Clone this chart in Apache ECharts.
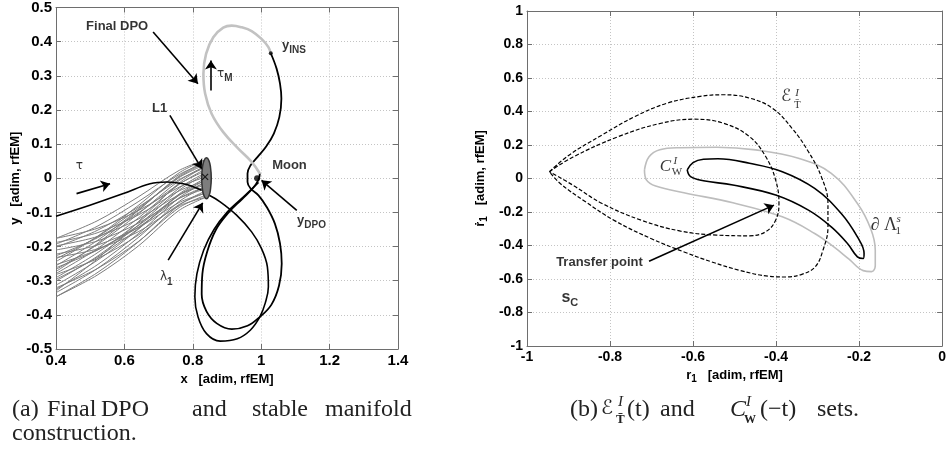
<!DOCTYPE html>
<html><head><meta charset="utf-8">
<script src="https://cdn.jsdelivr.net/npm/echarts@6/dist/echarts.min.js"></script>
<style>html,body{margin:0;padding:0;background:#fff}#c{width:949px;height:458px}</style>
</head><body><div id="c"></div>
<script>
// ---------- tick values ----------
const leftXTicks=[0.4,0.6,0.8,1.0,1.2,1.4];
const leftYTicks=[-0.5,-0.4,-0.3,-0.2,-0.1,0,0.1,0.2,0.3,0.4,0.5];
const rightXTicks=[-1,-0.8,-0.6,-0.4,-0.2,0];
const rightYTicks=[-1,-0.8,-0.6,-0.4,-0.2,0,0.2,0.4,0.6,0.8,1];

// ---------- panel (a) data ----------
const manifold=[
 [[0.40,-0.176],[0.52,-0.147],[0.64,-0.095],[0.76,-0.026],[0.826,0.000]],
 [[0.40,-0.188],[0.52,-0.160],[0.64,-0.108],[0.76,-0.037],[0.827,-0.011]],
 [[0.40,-0.198],[0.52,-0.171],[0.64,-0.120],[0.76,-0.048],[0.828,-0.022]],
 [[0.40,-0.210],[0.52,-0.184],[0.64,-0.132],[0.76,-0.059],[0.831,-0.033]],
 [[0.40,-0.222],[0.52,-0.196],[0.64,-0.145],[0.76,-0.071],[0.835,-0.044]],
 [[0.40,-0.232],[0.52,-0.207],[0.64,-0.157],[0.76,-0.081],[0.840,-0.055]],
 [[0.40,-0.244],[0.52,-0.171],[0.64,-0.080],[0.76,0.016],[0.840,0.055]],
 [[0.40,-0.256],[0.52,-0.183],[0.64,-0.093],[0.76,0.004],[0.835,0.044]],
 [[0.40,-0.267],[0.52,-0.195],[0.64,-0.105],[0.76,-0.007],[0.831,0.033]],
 [[0.40,-0.279],[0.52,-0.207],[0.64,-0.117],[0.76,-0.018],[0.828,0.022]],
 [[0.40,-0.291],[0.52,-0.219],[0.64,-0.130],[0.76,-0.029],[0.827,0.011]],
 [[0.40,-0.301],[0.52,-0.229],[0.64,-0.138],[0.76,-0.035],[0.826,0.006]],
 [[0.40,-0.313],[0.52,-0.241],[0.64,-0.150],[0.76,-0.046],[0.826,-0.006]],
 [[0.40,-0.325],[0.52,-0.254],[0.64,-0.163],[0.76,-0.057],[0.827,-0.017]],
 [[0.40,-0.335],[0.52,-0.265],[0.64,-0.174],[0.76,-0.068],[0.829,-0.028]],
 [[0.40,-0.347],[0.52,-0.277],[0.64,-0.187],[0.76,-0.079],[0.833,-0.039]],
 [[0.40,-0.176],[0.52,-0.125],[0.64,-0.055],[0.76,0.023],[0.840,0.055]],
 [[0.40,-0.347],[0.52,-0.284],[0.64,-0.199],[0.76,-0.094],[0.840,-0.055]],
 [[0.40,-0.262],[0.52,-0.211],[0.64,-0.139],[0.76,-0.050],[0.827,-0.017]],
 [[0.40,-0.202],[0.52,-0.153],[0.64,-0.085],[0.76,-0.004],[0.830,0.028]],
 [[0.40,-0.321],[0.52,-0.265],[0.64,-0.186],[0.76,-0.086],[0.837,-0.050]],
 [[0.40,-0.193],[0.52,-0.141],[0.64,-0.069],[0.76,0.011],[0.835,0.044]],
 [[0.40,-0.227],[0.52,-0.175],[0.64,-0.102],[0.76,-0.017],[0.827,0.017]],
 [[0.40,-0.253],[0.52,-0.210],[0.64,-0.144],[0.76,-0.059],[0.829,-0.028]],
 [[0.40,-0.273],[0.52,-0.192],[0.64,-0.095],[0.76,0.007],[0.838,0.050]],
 [[0.40,-0.296],[0.52,-0.232],[0.64,-0.148],[0.76,-0.049],[0.827,-0.011]],
 [[0.40,-0.330],[0.52,-0.237],[0.64,-0.128],[0.76,-0.014],[0.831,0.033]],
 [[0.40,-0.236],[0.52,-0.172],[0.64,-0.089],[0.76,0.002],[0.834,0.039]],
 [[0.40,-0.282],[0.52,-0.236],[0.64,-0.167],[0.76,-0.077],[0.835,-0.044]]
];
const lyapOrbit=[[0.854,0],[0.852,0.030],[0.847,0.052],[0.840,0.060],[0.833,0.052],[0.828,0.030],[0.826,0],[0.828,-0.030],[0.833,-0.052],[0.840,-0.060],[0.847,-0.052],[0.852,-0.030]];
const dpoGray=[[0.996,0.014],[0.972,0.048],[0.933,0.087],[0.889,0.135],[0.855,0.189],[0.836,0.248],[0.831,0.306],[0.839,0.365],[0.860,0.413],[0.889,0.441],[0.914,0.447],[0.943,0.442],[0.972,0.431],[1.001,0.408],[1.021,0.384],[1.028,0.366]];
const dpoBlack=[[1.028,0.366],[1.045,0.321],[1.055,0.277],[1.059,0.233],[1.053,0.179],[1.037,0.131],[1.014,0.092],[0.989,0.062],[0.969,0.038],[0.960,0.014],[0.960,-0.011],[0.969,-0.030],[0.992,-0.050],[1.016,-0.084],[1.040,-0.133],[1.055,-0.191],[1.060,-0.250],[1.052,-0.315],[1.030,-0.370],[0.996,-0.406],[0.960,-0.432],[0.914,-0.442],[0.870,-0.425],[0.840,-0.390],[0.826,-0.340],[0.828,-0.280],[0.842,-0.215],[0.868,-0.150],[0.905,-0.100],[0.945,-0.060],[0.975,-0.030],[0.992,-0.005],[0.996,0.014]];
const l1Path=[[0.848,-0.050],[0.880,-0.069],[0.928,-0.108],[0.972,-0.157],[1.001,-0.206],[1.018,-0.259],[1.021,-0.318],[1.012,-0.365],[0.996,-0.406],[0.968,-0.445],[0.930,-0.470],[0.880,-0.477],[0.840,-0.455],[0.815,-0.405],[0.806,-0.347],[0.812,-0.280],[0.832,-0.210],[0.862,-0.150],[0.900,-0.100],[0.940,-0.062],[0.972,-0.032],[0.992,-0.012]];
const tauPath=[[0.400,-0.111],[0.499,-0.079],[0.597,-0.045],[0.675,-0.016],[0.724,-0.011],[0.772,-0.016],[0.801,-0.025],[0.826,-0.035]];
const l1Point=[[0.836,0.004]];
const moonPoint=[[0.988,0.0]];
const insPoint=[[1.028,0.366]];
const leftArrows=[[[0.684,0.428],[0.815,0.277]],[[0.853,0.257],[0.853,0.345]],[[0.733,0.184],[0.826,0.028]],[[0.46,-0.045],[0.558,-0.016]],[[0.728,-0.24],[0.829,-0.072]],[[1.104,-0.094],[1.001,-0.006]]];
const leftNotes=[
 {t:'{b|Final DPO}',at:[0.488,0.446]},
 {t:'{g|τ}{sb|M}',at:[0.871,0.307]},
 {t:'{b|y}{sb|INS}',at:[1.061,0.389]},
 {t:'{b|L1}',at:[0.681,0.205]},
 {t:'{b|Moon}',at:[1.032,0.039]},
 {t:'{g|τ}',at:[0.458,0.037]},
 {t:'{b|y}{sb|DPO}',at:[1.105,-0.123]},
 {t:'{g|λ}{sb|1}',at:[0.704,-0.289]}
];

// ---------- panel (b) data ----------
const eOuter=[[-0.946,0.041],[-0.898,0.141],[-0.819,0.260],[-0.740,0.370],[-0.662,0.450],[-0.583,0.490],[-0.527,0.500],[-0.464,0.480],[-0.409,0.420],[-0.362,0.301],[-0.322,0.160],[-0.291,0.011],[-0.275,-0.149],[-0.275,-0.289],[-0.287,-0.428],[-0.306,-0.528],[-0.338,-0.572],[-0.378,-0.588],[-0.417,-0.584],[-0.488,-0.548],[-0.555,-0.498],[-0.620,-0.440],[-0.700,-0.360],[-0.790,-0.250],[-0.859,-0.139],[-0.920,-0.030],[-0.946,0.041]];
const eInner=[[-0.946,0.041],[-0.890,0.127],[-0.780,0.250],[-0.677,0.330],[-0.598,0.354],[-0.527,0.330],[-0.464,0.250],[-0.425,0.131],[-0.401,-0.009],[-0.393,-0.149],[-0.401,-0.249],[-0.425,-0.318],[-0.464,-0.342],[-0.543,-0.338],[-0.630,-0.314],[-0.725,-0.249],[-0.819,-0.149],[-0.890,-0.039],[-0.946,0.041]];
const lambdaBound=[[-0.717,0.051],[-0.706,0.130],[-0.680,0.172],[-0.630,0.184],[-0.543,0.187],[-0.449,0.171],[-0.346,0.121],[-0.267,0.031],[-0.204,-0.149],[-0.172,-0.300],[-0.161,-0.428],[-0.161,-0.520],[-0.170,-0.556],[-0.190,-0.550],[-0.225,-0.480],[-0.260,-0.410],[-0.307,-0.328],[-0.385,-0.229],[-0.504,-0.145],[-0.622,-0.085],[-0.690,-0.045],[-0.712,-0.010],[-0.717,0.051]];
const cwSet=[[-0.614,0.051],[-0.600,0.095],[-0.575,0.115],[-0.540,0.118],[-0.464,0.091],[-0.385,0.041],[-0.307,-0.059],[-0.243,-0.209],[-0.204,-0.349],[-0.188,-0.448],[-0.190,-0.478],[-0.204,-0.468],[-0.228,-0.388],[-0.267,-0.289],[-0.322,-0.189],[-0.401,-0.099],[-0.504,-0.039],[-0.575,-0.013],[-0.606,0.011],[-0.614,0.051]];
const rightArrows=[[[-0.706,-0.494],[-0.405,-0.159]]];
const rightNotes=[
 {t:'{b|Transfer point}',at:[-0.721,-0.500],side:'left'},
 {t:'{s1|s}{s2|C}',at:[-0.917,-0.710]},
 {t:'{m|ℰ}',at:[-0.388,0.487]},
 {t:'{mi|I}',at:[-0.354,0.510]},
 {t:'{mr|T̄}',at:[-0.357,0.436]},
 {t:'{mc|C}',at:[-0.680,0.069]},
 {t:'{mi|I}',at:[-0.647,0.104]},
 {t:'{mr|W}',at:[-0.651,0.040]},
 {t:'{ml|∂ Λ}',at:[-0.172,-0.278]},
 {t:'{mi|s}',at:[-0.110,-0.243]},
 {t:'{mr|1}',at:[-0.112,-0.314]}
];

// ---------- styling ----------
const SANS='"Liberation Sans", Arial, sans-serif';
const SERIF='"Liberation Serif", "DejaVu Serif", serif';
const AX='#6e6e6e';
const fmt=v=>String(+(+v).toFixed(2));
function mkAxis(dim,gi,pos,ticks,main,fs,name,gap,nameRich){
  const o={type:'value',gridIndex:gi,position:pos,min:ticks[0],max:ticks[ticks.length-1],
    interval:+(ticks[1]-ticks[0]).toFixed(4),
    axisLine:{show:true,onZero:false,lineStyle:{color:AX,width:1}},
    axisTick:{show:true,inside:true,length:5,lineStyle:{color:AX}},
    axisLabel:{show:main,color:'#000',fontFamily:SANS,fontWeight:'bold',fontSize:fs,margin:4,formatter:fmt},
    splitLine:{show:main,lineStyle:{color:'#c4c4c4',type:[1,2],width:1}}};
  if(main&&name){o.name=name;o.nameLocation='middle';o.nameGap=gap;
    o.nameTextStyle={color:'#000',fontFamily:SANS,fontWeight:'bold',fontSize:13,rich:nameRich||{}};}
  return o;
}
const nameRich={
  r:{fontFamily:SANS,fontWeight:'bold',fontSize:13,lineHeight:18,verticalAlign:'middle',color:'#000'},
  s:{fontFamily:SANS,fontWeight:'bold',fontSize:10,lineHeight:10,verticalAlign:'bottom',color:'#000'},
  t:{fontFamily:SANS,fontWeight:'bold',fontSize:13,lineHeight:18,verticalAlign:'middle',color:'#000'}
};
const noteRich={
  b:{fontFamily:SANS,fontWeight:'bold',fontSize:13,lineHeight:20,verticalAlign:'middle',color:'#000'},
  g:{fontFamily:'"DejaVu Sans", sans-serif',fontSize:12,lineHeight:20,verticalAlign:'middle',color:'#000'},
  sb:{fontFamily:SANS,fontWeight:'bold',fontSize:10,lineHeight:10,verticalAlign:'bottom',color:'#000'},
  s1:{fontFamily:SANS,fontWeight:'bold',fontSize:16,lineHeight:22,verticalAlign:'middle',color:'#000'},
  s2:{fontFamily:SANS,fontWeight:'bold',fontSize:11,lineHeight:11,verticalAlign:'bottom',color:'#000'},
  m:{fontFamily:'"DejaVu Sans", sans-serif',fontSize:17,color:'#000'},
  mc:{fontFamily:SERIF,fontStyle:'italic',fontSize:17,color:'#000'},
  ml:{fontFamily:SERIF,fontSize:18,color:'#000'},
  mi:{fontFamily:SERIF,fontStyle:'italic',fontSize:11,color:'#000'},
  mr:{fontFamily:SERIF,fontSize:11,color:'#000'}
};

function line(data,g,color,width,type,z,smooth){
  return {type:'line',xAxisIndex:g*2,yAxisIndex:g*2,data:data,showSymbol:false,symbol:'none',
    smooth:smooth===undefined?0.4:smooth,lineStyle:{color:color,width:width,type:type||'solid'},
    silent:true,animation:false,z:z||2};
}
function arrows(list,g){
  return {type:'line',xAxisIndex:g*2,yAxisIndex:g*2,data:[],silent:true,animation:false,z:6,
    markLine:{silent:true,animation:false,symbol:['none','arrow'],symbolSize:9,label:{show:false},
      lineStyle:{color:'#000',width:1.6,type:'solid'},itemStyle:{color:'#000'},emphasis:{disabled:true},
      data:list.map(a=>[{coord:a[0]},{coord:a[1]}])}};
}
function notes(list,g){
  return {type:'scatter',xAxisIndex:g*2,yAxisIndex:g*2,symbolSize:0,silent:true,animation:false,z:10,
    data:list.map(n=>({value:n.at,name:n.t,label:{position:n.side||'right'}})),
    label:{show:true,position:'right',distance:0,formatter:p=>p.name,rich:noteRich}};
}
function points(data,g,size,symbol,style){
  return {type:'scatter',xAxisIndex:g*2,yAxisIndex:g*2,data:data,symbol:symbol||'circle',symbolSize:size,
    itemStyle:style||{color:'#000'},silent:true,animation:false,z:8};
}

const series=[];
manifold.forEach(m=>series.push(line(m,0,'#7c7c7c',1,'solid',1,0.3)));
series.push({type:'custom',xAxisIndex:0,yAxisIndex:0,data:[[0.84,0]],silent:true,animation:false,z:3,
  renderItem:(params,api)=>({type:'polygon',shape:{points:lyapOrbit.map(p=>api.coord(p)),smooth:0.5},
    style:{fill:'#7d7d7d',stroke:'#333',lineWidth:1.5}})});
series.push(line(tauPath,0,'#000',1.6));
series.push(line(l1Path,0,'#000',1.6));
series.push(line(dpoBlack,0,'#000',1.8));
series.push(line(dpoGray,0,'#c2c2c2',2.6));
series.push(points(l1Point,0,6,'path://M0,0L10,10M10,0L0,10',{color:'none',borderColor:'#000',borderWidth:1.2}));
series.push(points(moonPoint,0,6));
series.push(points(insPoint,0,4));
series.push(arrows(leftArrows,0));
series.push(notes(leftNotes,0));

series.push(line(lambdaBound,1,'#bdbdbd',1.6));
series.push(line(cwSet,1,'#000',1.6));
series.push(line(eOuter,1,'#000',1.2,[4,2]));
series.push(line(eInner,1,'#000',1.2,[4,2]));
series.push(arrows(rightArrows,1));
series.push(notes(rightNotes,1));

const capFont='24px "Liberation Serif", "DejaVu Serif", serif';
const supFont='italic 15px "Liberation Serif", serif';
function cap(text,x,y,font){return {type:'text',x:x,y:y,silent:true,style:{text:text,font:font||capFont,fill:'#222',align:'left',verticalAlign:'middle'}};}
const captions=[
  cap('(a)',12,410),cap('Final',47,410),cap('DPO',101,410),cap('and',192,410),cap('stable',252,410),cap('manifold',325,410),
  cap('construction.',12,434),
  cap('(b)',570,410),cap('ℰ',601,409,'20px "DejaVu Sans", sans-serif'),cap('I',618,402,supFont),cap('T̄',616,420,'bold 13px "Liberation Serif", serif'),
  cap('(t)',627,410),cap('and',660,410),cap('C',730,410,'italic 24px "Liberation Serif", serif'),
  cap('I',746,402,supFont),cap('W',744,420,'bold 12px "Liberation Serif", serif'),cap('(−t)',760,410),cap('sets.',817,410)
];

const option={
  animation:false,
  grid:[{left:56,top:7,width:342,height:342,containLabel:false},{left:527,top:11,width:421,height:335,containLabel:false}],
  xAxis:[
    mkAxis('x',0,'bottom',leftXTicks,true,15,'x   [adim, rfEM]',16),
    mkAxis('x',0,'top',leftXTicks,false,15),
    mkAxis('x',1,'bottom',rightXTicks,true,14,'{r|r}{s|1}{t|   [adim, rfEM]}',16,nameRich),
    mkAxis('x',1,'top',rightXTicks,false,14)
  ],
  yAxis:[
    mkAxis('y',0,'left',leftYTicks,true,15,'y   [adim, rfEM]',24),
    mkAxis('y',0,'right',leftYTicks,false,15),
    mkAxis('y',1,'left',rightYTicks,true,14,'{r|ṙ}{s|1}{t|   [adim, rfEM]}',38,nameRich),
    mkAxis('y',1,'right',rightYTicks,false,14)
  ],
  series:series,
  graphic:captions
};
const chart=echarts.init(document.getElementById('c'),null,{renderer:'canvas'});
chart.setOption(option);
</script></body></html>
